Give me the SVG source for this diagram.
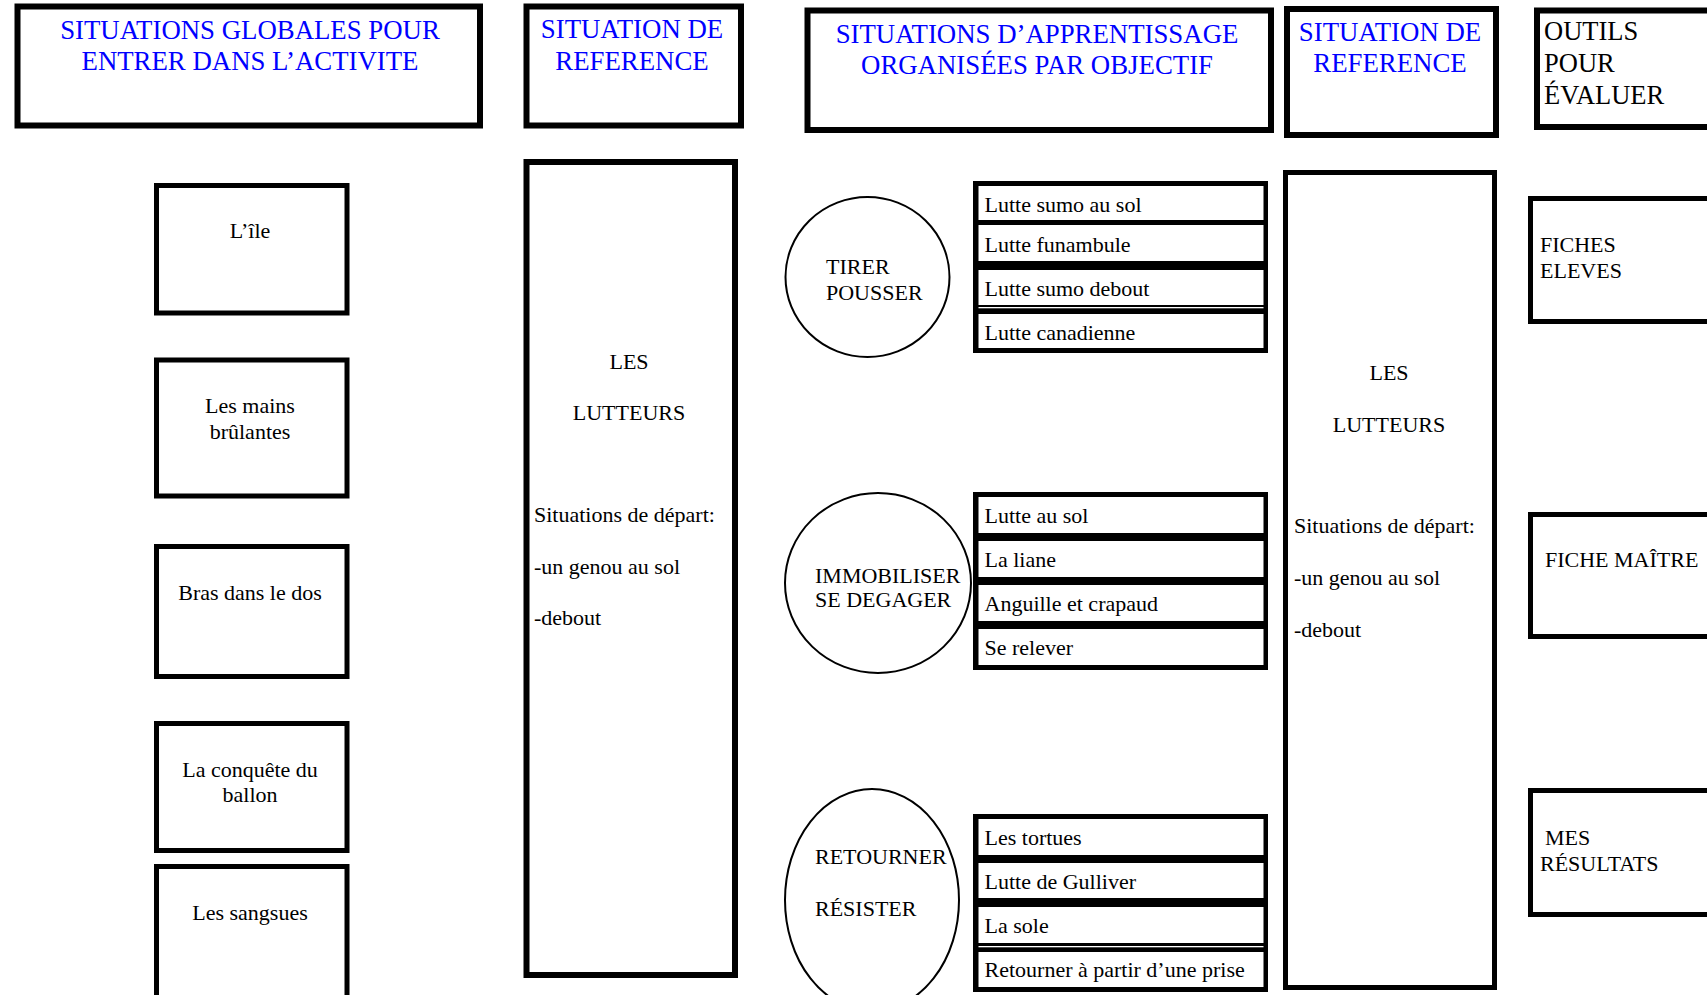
<svg xmlns="http://www.w3.org/2000/svg" width="1707" height="995" viewBox="0 0 1707 995">
<style>
  text { font-family: "Liberation Serif", "Times New Roman", serif; font-size: 22px; fill: #000; }
  .hdr { font-size: 26.8px; fill: #0000ff; }
  .hdrk { font-size: 26.5px; fill: #000; }
  .box { fill: #fff; stroke: #000; stroke-width: 6; }
  .sbox { fill: #fff; stroke: #000; stroke-width: 5; }
  .circ { fill: #fff; stroke: #000; stroke-width: 2; }
  .frame { fill: #000; }
  .row { fill: #fff; }
  .mid { text-anchor: middle; }
</style>
<rect x="0" y="0" width="1707" height="995" fill="#fff"/>

<!-- Header row -->
<g id="hdr-globales">
  <rect class="box" x="17.5" y="6.5" width="462.5" height="119"/>
  <text class="hdr mid" x="250" y="39">SITUATIONS GLOBALES POUR</text>
  <text class="hdr mid" x="250" y="70">ENTRER DANS L’ACTIVITE</text>
</g>
<g id="hdr-reference-1">
  <rect class="box" x="526.5" y="6.5" width="214.5" height="119"/>
  <text class="hdr mid" x="632" y="38">SITUATION DE</text>
  <text class="hdr mid" x="632" y="70">REFERENCE</text>
</g>
<g id="hdr-apprentissage">
  <rect class="box" x="807.5" y="10.5" width="463.5" height="119.5"/>
  <text class="hdr mid" x="1037" y="43">SITUATIONS D’APPRENTISSAGE</text>
  <text class="hdr mid" x="1037" y="74">ORGANISÉES PAR OBJECTIF</text>
</g>
<g id="hdr-reference-2">
  <rect class="box" x="1287" y="9" width="209" height="126"/>
  <text class="hdr mid" x="1390" y="41">SITUATION DE</text>
  <text class="hdr mid" x="1390" y="72">REFERENCE</text>
</g>
<g id="hdr-outils">
  <rect class="box" x="1537" y="10.5" width="200" height="116.5"/>
  <text class="hdrk" x="1544" y="40">OUTILS</text>
  <text class="hdrk" x="1544" y="72">POUR</text>
  <text class="hdrk" x="1544" y="104">ÉVALUER</text>
</g>

<!-- Left column: global situations -->
<g id="ile">
  <rect class="sbox" x="156.5" y="185.5" width="190.5" height="127.5"/>
  <text class="mid" x="250" y="238">L’île</text>
</g>
<g id="mains-brulantes">
  <rect class="sbox" x="156.5" y="360" width="190.5" height="136"/>
  <text class="mid" x="250" y="413">Les mains</text>
  <text class="mid" x="250" y="439">brûlantes</text>
</g>
<g id="bras-dans-le-dos">
  <rect class="sbox" x="156.5" y="546.5" width="190.5" height="130"/>
  <text class="mid" x="250" y="600">Bras dans le dos</text>
</g>
<g id="conquete-ballon">
  <rect class="sbox" x="156.5" y="723.5" width="190.5" height="127"/>
  <text class="mid" x="250" y="777">La conquête du</text>
  <text class="mid" x="250" y="802">ballon</text>
</g>
<g id="sangsues">
  <rect class="sbox" x="156.5" y="866.5" width="190.5" height="150"/>
  <text class="mid" x="250" y="920">Les sangsues</text>
</g>

<!-- Reference situation column 1 -->
<g id="ref-lutteurs-1">
  <rect class="box" x="526.5" y="162" width="208.5" height="813"/>
  <text class="mid" x="629" y="369">LES</text>
  <text class="mid" x="629" y="420">LUTTEURS</text>
  <text x="534" y="522">Situations de départ:</text>
  <text x="534" y="574">-un genou au sol</text>
  <text x="534" y="625">-debout</text>
</g>

<!-- Objectives -->
<g id="obj-tirer-pousser">
  <ellipse class="circ" cx="867.5" cy="277" rx="82" ry="80"/>
  <text x="826" y="274">TIRER</text>
  <text x="826" y="300">POUSSER</text>
</g>
<g id="obj-immobiliser">
  <ellipse class="circ" cx="878" cy="583" rx="93" ry="90"/>
  <text x="815" y="583">IMMOBILISER</text>
  <text x="815" y="607">SE DEGAGER</text>
</g>
<g id="obj-retourner">
  <ellipse class="circ" cx="872" cy="900" rx="87" ry="111"/>
  <text x="815" y="864">RETOURNER</text>
  <text x="815" y="916">RÉSISTER</text>
</g>

<!-- Learning situations lists -->
<g id="list-tirer-pousser">
  <rect class="frame" x="973" y="181" width="295" height="172"/>
  <g id="lutte-sumo-sol"><rect class="row" x="978.5" y="186" width="285" height="34"/><text x="984.5" y="212">Lutte sumo au sol</text></g>
  <g id="lutte-funambule"><rect class="row" x="978.5" y="225" width="285" height="36"/><text x="984.5" y="252">Lutte funambule</text></g>
  <g id="lutte-sumo-debout"><rect class="row" x="978.5" y="270" width="285" height="35"/><text x="984.5" y="296">Lutte sumo debout</text></g>
  <rect class="row" x="978.5" y="307" width="285" height="1.3"/>
  <g id="lutte-canadienne"><rect class="row" x="978.5" y="314" width="285" height="34"/><text x="984.5" y="340">Lutte canadienne</text></g>
</g>

<g id="list-immobiliser">
  <rect class="frame" x="973" y="492" width="295" height="178"/>
  <g id="lutte-au-sol"><rect class="row" x="978.5" y="497" width="285" height="36"/><text x="984.5" y="523">Lutte au sol</text></g>
  <g id="la-liane"><rect class="row" x="978.5" y="541" width="285" height="36"/><text x="984.5" y="567">La liane</text></g>
  <g id="anguille-crapaud"><rect class="row" x="978.5" y="585" width="285" height="36"/><text x="984.5" y="611">Anguille et crapaud</text></g>
  <g id="se-relever"><rect class="row" x="978.5" y="629" width="285" height="36"/><text x="984.5" y="655">Se relever</text></g>
</g>

<g id="list-retourner">
  <rect class="frame" x="973" y="814" width="295" height="178"/>
  <g id="les-tortues"><rect class="row" x="978.5" y="819" width="285" height="36"/><text x="984.5" y="845">Les tortues</text></g>
  <g id="lutte-gulliver"><rect class="row" x="978.5" y="863" width="285" height="35"/><text x="984.5" y="889">Lutte de Gulliver</text></g>
  <g id="la-sole"><rect class="row" x="978.5" y="907" width="285" height="36"/><text x="984.5" y="933">La sole</text></g>
  <rect class="row" x="978.5" y="946" width="285" height="1.3"/>
  <g id="retourner-prise"><rect class="row" x="978.5" y="952" width="285" height="35"/><text x="984.5" y="977">Retourner à partir d’une prise</text></g>
</g>

<!-- Reference situation column 2 -->
<g id="ref-lutteurs-2">
  <rect class="sbox" x="1285.5" y="172.5" width="209" height="815"/>
  <text class="mid" x="1389" y="380">LES</text>
  <text class="mid" x="1389" y="432">LUTTEURS</text>
  <text x="1294" y="533">Situations de départ:</text>
  <text x="1294" y="585">-un genou au sol</text>
  <text x="1294" y="637">-debout</text>
</g>

<!-- Evaluation tools -->
<g id="fiches-eleves">
  <rect class="sbox" x="1530.5" y="198.5" width="200" height="123"/>
  <text x="1540" y="252">FICHES</text>
  <text x="1540" y="278">ELEVES</text>
</g>
<g id="fiche-maitre">
  <rect class="sbox" x="1530.5" y="514.5" width="200" height="122"/>
  <text x="1545" y="567">FICHE MAÎTRE</text>
</g>
<g id="mes-resultats">
  <rect class="sbox" x="1530.5" y="790.5" width="200" height="124"/>
  <text x="1545" y="845">MES</text>
  <text x="1540" y="871">RÉSULTATS</text>
</g>

<g id="connectors"></g>
</svg>
